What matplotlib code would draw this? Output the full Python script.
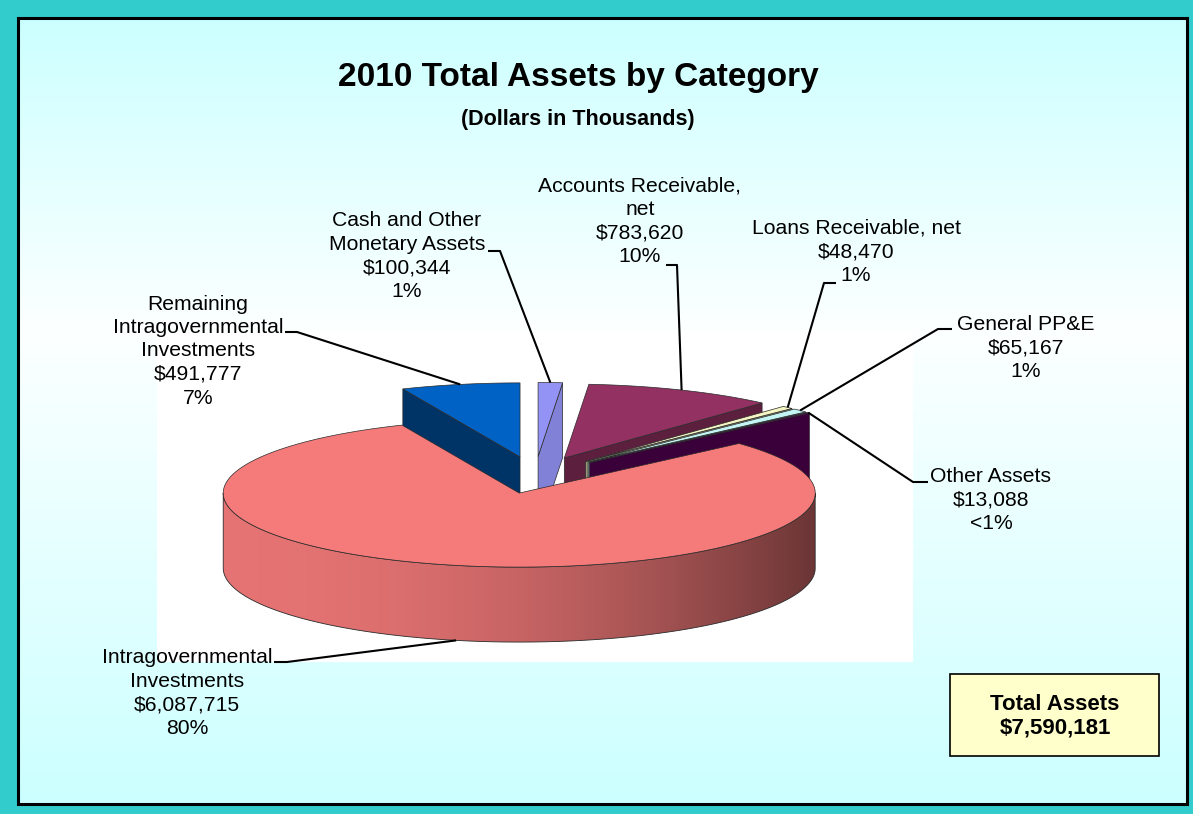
import numpy as np
import matplotlib.pyplot as plt
from matplotlib.patches import Polygon, Rectangle
from matplotlib.colors import to_rgb

plt.rcParams['font.family'] = ['Liberation Sans', 'DejaVu Sans']

# data (dollars in thousands), Excel order: starts at 12 o'clock, clockwise
categories = ['Cash and Other\nMonetary Assets', 'Accounts Receivable,\nnet',
              'Loans Receivable, net', 'General PP&E', 'Other Assets',
              'Intragovernmental\nInvestments',
              'Remaining\nIntragovernmental\nInvestments']
values = [100344, 783620, 48470, 65167, 13088, 6087715, 491777]
pct_text = ['1%', '10%', '1%', '1%', '<1%', '80%', '7%']
colors = ['#9999FF', '#993366', '#FFFFCC', '#CCFFFF', '#660066', '#FF8080', '#0066CC']
total_assets = 7590181

# label layout (pixel coords): text centre, leader start, leader knee
label_xy = [(407, 256), (640, 221), (856, 252), (1026, 348), (991, 500), (187, 693), (198, 351)]
lead_start = [(488, 251), (666, 265), (836, 283), (952, 329), (928, 482), (274, 662), (285, 332)]
lead_knee = [(500, 251), (677, 265), (824, 283), (938, 329), (913, 482), (287, 662), (297, 332)]

W, Hpx = 1193, 814
fig = plt.figure(figsize=(W / 100, Hpx / 100), dpi=100)
fig.patch.set_facecolor('#33CCCC')
ax = fig.add_axes([0, 0, 1, 1])
ax.set_xlim(0, W)
ax.set_ylim(Hpx, 0)
ax.axis('off')

# background: light cyan with a soft vertical gradient
ys = np.linspace(18, 804, 400)
w = np.where(ys < 330, 0.95 * (ys - 18) / 312, 0.95 * (804 - ys) / 474)
cyan = np.array([0.8, 1.0, 1.0])
grad = cyan[None, :] * (1 - w[:, None]) + w[:, None]
ax.imshow(grad[:, None, :], extent=(18, 1187, 804, 18), aspect='auto',
          interpolation='bilinear', zorder=0)
ax.add_patch(Rectangle((157, 330), 756, 332, fc='white', ec='none', zorder=0.5))
ax.add_patch(Rectangle((18, 18), 1169, 786, fill=False, ec='black', lw=2.2, zorder=10))

# 3-D pie geometry
cx, cy = 535, 475
R, K, DEPTH, EXP = 296, 0.25, 75, 74
EDGE = '#2a2a2a'


def shade(c, f):
    r, g, b = to_rgb(c)
    return (r * f, g * f, b * f)


def pt(o, ang, r, z=0.0):
    a = np.radians(ang)
    return (cx + o[0] + r * np.cos(a), cy - K * (o[1] + r * np.sin(a)) + z)


frac = np.array(values) / sum(values)
cum = np.concatenate([[0], np.cumsum(frac)])
a_hi = 90 - 360 * cum[:-1]
a_lo = 90 - 360 * cum[1:]
mids = (a_hi + a_lo) / 2
offs = [(EXP * np.cos(np.radians(m)), EXP * np.sin(np.radians(m))) for m in mids]

z = 2.0
order = sorted(range(len(values)), key=lambda i: -offs[i][1])
for i in order:
    lo, hi, o, col = a_lo[i], a_hi[i], offs[i], colors[i]
    # radial faces
    for ang, nrm in ((lo, lo - 90), (hi, hi + 90)):
        if np.sin(np.radians(nrm)) < -1e-3:
            c = max(np.cos(np.radians(nrm)), 0) ** 4
            f = 0.5 + 0.35 * c
            quad = [pt(o, ang, 0), pt(o, ang, R), pt(o, ang, R, DEPTH), pt(o, ang, 0, DEPTH)]
            ax.add_patch(Polygon(quad, closed=True, fc=shade(col, f), ec=EDGE, lw=0.5, zorder=z))
            z += 0.01
    # outer wall (front facing part), shaded left to right
    for n in range(-2, 3):
        s0, s1 = max(lo, -180 + 360 * n), min(hi, 360 * n)
        if s1 - s0 <= 0:
            continue
        angs = np.linspace(s0, s1, int(s1 - s0) * 2 + 2)
        top = [pt(o, a, R) for a in angs]
        bot = [pt(o, a, R, DEPTH) for a in angs[::-1]]
        wall = Polygon(top + bot, closed=True, fc='none', ec=EDGE, lw=0.6, zorder=z + 0.005)
        ax.add_patch(wall)
        xx = np.linspace(cx + o[0] - R, cx + o[0] + R, 300)
        cosv = (xx - cx - o[0]) / R
        fac = 0.9 - 0.48 * ((cosv + 1) / 2) ** 2
        img = np.array([shade(col, f) for f in fac])[None, :, :]
        y0 = min(p[1] for p in top + bot)
        y1 = max(p[1] for p in top + bot)
        im = ax.imshow(img, extent=(cx + o[0] - R, cx + o[0] + R, y1, y0), aspect='auto',
                       interpolation='bilinear', zorder=z)
        im.set_clip_path(wall)
        z += 0.01
    # top face
    arc = [pt(o, a, R) for a in np.linspace(lo, hi, max(int(hi - lo) * 2, 3))]
    ax.add_patch(Polygon([pt(o, 0, 0)] + arc, closed=True, fc=shade(col, 0.96),
                         ec=EDGE, lw=0.5, zorder=z))
    z += 0.01

ax.set_xlim(0, W)
ax.set_ylim(Hpx, 0)

# labels and leader lines
for i in range(len(values)):
    txt = f'{categories[i]}\n${values[i]:,}\n{pct_text[i]}'
    ax.text(label_xy[i][0], label_xy[i][1], txt, ha='center', va='center',
            fontsize=15.2, linespacing=1.3, zorder=5)
    m = mids[i]
    dz = DEPTH if np.sin(np.radians(m)) < 0 else 0
    ax_pt = pt(offs[i], m, R, dz)
    xs = [lead_start[i][0], lead_knee[i][0], ax_pt[0]]
    ysl = [lead_start[i][1], lead_knee[i][1], ax_pt[1]]
    ax.plot(xs, ysl, color='black', lw=1.5, zorder=6, solid_capstyle='butt')

# titles
ax.text(578, 86, '2010 Total Assets by Category', ha='center', va='baseline',
        fontsize=24, fontweight='bold', zorder=5)
ax.text(578, 125, '(Dollars in Thousands)', ha='center', va='baseline',
        fontsize=15.5, fontweight='bold', zorder=5)

# total box
ax.add_patch(Rectangle((950, 674), 209, 82, fc='#FFFFCC', ec='black', lw=1.2, zorder=5))
ax.text(1055, 716, f'Total Assets\n${total_assets:,}', ha='center', va='center',
        fontsize=16, fontweight='bold', linespacing=1.15, zorder=6)

fig.savefig('out.png', dpi=100, facecolor=fig.get_facecolor())
